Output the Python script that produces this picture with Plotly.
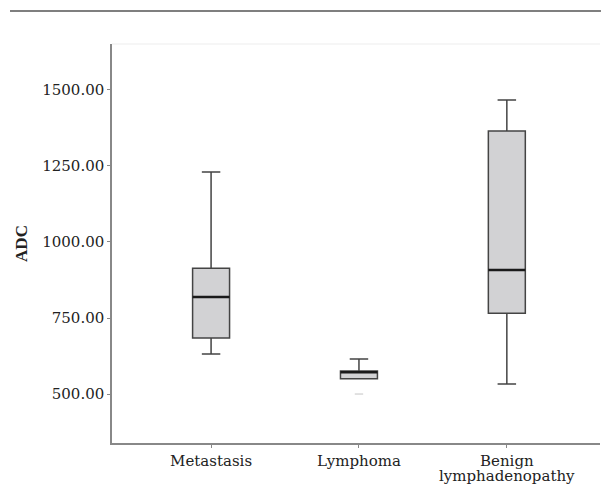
import plotly.graph_objects as go

categories = ["Metastasis", "Lymphoma", "Benign\nlymphadenopathy"]
q1 = [684, 550, 766]
median = [819, 572, 908]
q3 = [914, 576, 1365]
lowerfence = [632, 550, 533]
upperfence = [1230, 615, 1467]
outlier_group = [1]
outlier_value = [500]
y_ticks = [500, 750, 1000, 1250, 1500]

pos = list(range(len(categories)))
box_w = 0.25

fig = go.Figure()
fig.add_trace(go.Box(
    x=pos, q1=q1, median=median, q3=q3,
    lowerfence=lowerfence, upperfence=upperfence,
    width=box_w, whiskerwidth=0.5,
    fillcolor="#d2d2d4", line=dict(color="#444444", width=1.5),
    boxpoints=False, showlegend=False, hoverinfo="skip",
))
mx, my = [], []
for p, m in zip(pos, median):
    mx += [p - box_w / 2, p + box_w / 2, None]
    my += [m, m, None]
fig.add_trace(go.Scatter(x=mx, y=my, mode="lines",
                         line=dict(color="#1a1a1a", width=2.5),
                         showlegend=False, hoverinfo="skip"))
fig.add_trace(go.Scatter(x=outlier_group, y=outlier_value, mode="markers",
                         marker=dict(symbol="line-ew", size=6,
                                     line=dict(color="#d8d8d8", width=1.5)),
                         showlegend=False, hoverinfo="skip"))

first_lines = [c.split("\n")[0] for c in categories]
annotations = []
for p, c in zip(pos, categories):
    for k, line in enumerate(c.split("\n")[1:], start=1):
        annotations.append(dict(
            x=p, y=0, xref="x", yref="paper", text=line, showarrow=False,
            xanchor="center", yanchor="top", yshift=-8 - 14 * k,
            font=dict(family="DejaVu Serif", size=15, color="#222222")))

fig.update_layout(
    width=601, height=484,
    margin=dict(l=112, r=1, t=44, b=41),
    paper_bgcolor="white", plot_bgcolor="white",
    font=dict(family="DejaVu Serif", size=14, color="#222222"),
    xaxis=dict(range=[-0.67, 2.63], tickvals=pos, ticktext=first_lines,
               showgrid=False, zeroline=False, showline=True,
               linecolor="#888888", linewidth=1.5,
               ticks="outside", ticklen=3, tickcolor="#888888",
               tickfont=dict(size=15)),
    yaxis=dict(range=[339, 1651], tickvals=y_ticks,
               ticktext=[f"{v:.2f}" for v in y_ticks],
               showgrid=False, zeroline=False, showline=True,
               linecolor="#888888", linewidth=1.5,
               ticks="outside", ticklen=3, tickcolor="#888888",
               tickfont=dict(size=15),
               title=dict(text="<b>ADC</b>", standoff=10,
                          font=dict(family="Liberation Serif", size=17))),
    annotations=annotations,
    shapes=[
        dict(type="line", xref="paper", yref="paper",
             x0=-0.209, x1=1.002, y0=1.083, y1=1.083,
             line=dict(color="#555555", width=1.5)),
        dict(type="line", xref="paper", yref="paper",
             x0=0, x1=1, y0=1, y1=1,
             line=dict(color="#f3f3f3", width=1.5)),
    ],
)

fig.write_html("out.html",
               config={"displayModeBar": False},
               post_script="document.body.style.margin='0';"
                           "document.body.style.overflow='hidden';")
